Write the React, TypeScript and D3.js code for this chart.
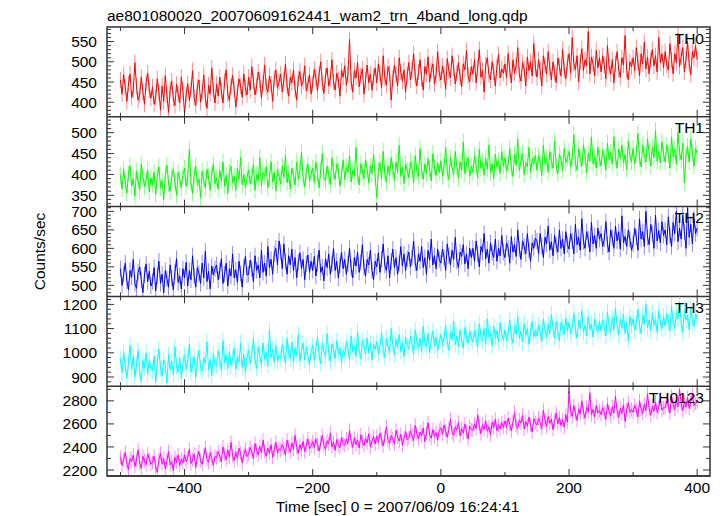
import React from 'react';
import * as d3 from 'd3';

const TITLE = 'ae801080020_20070609162441_wam2_trn_4band_long.qdp';
const X_LABEL = 'Time [sec] 0 = 2007/06/09 16:24:41';
const Y_LABEL = 'Counts/sec';
const T_START = -500;
const BIN = 2.5;

const th0 = [
  455, 420, 468, 438, 402, 445, 470, 412, 430, 498, 440, 405, 418, 462, 425, 395, 448, 472, 430, 410,
  438, 395, 412, 458, 425, 380, 440, 402, 466, 418, 375, 430, 452, 408, 392, 445, 420, 398, 462, 428,
  372, 418, 446, 405, 430, 478, 412, 392, 438, 455, 400, 425, 468, 410, 385, 442, 420, 485, 430, 398,
  445, 415, 462, 428, 398, 452, 480, 420, 405, 440, 466, 432, 388, 425, 458, 440, 412, 470, 435, 418,
  462, 430, 488, 452, 418, 440, 475, 455, 410, 448, 492, 438, 425, 465, 445, 402, 458, 480, 435, 450,
  470, 425, 455, 495, 440, 415, 462, 448, 480, 432, 405, 458, 476, 440, 452, 490, 428, 445, 468, 420,
  445, 482, 460, 428, 470, 500, 448, 422, 465, 485, 440, 458, 505, 450, 430, 472, 455, 415, 478, 462,
  490, 442, 468, 555, 450, 425, 478, 460, 498, 438, 465, 482, 420, 455, 492, 448, 470, 430, 462, 485,
  448, 495, 470, 435, 515, 460, 442, 488, 472, 405, 458, 492, 468, 440, 510, 475, 452, 480, 425, 468,
  498, 455, 480, 520, 462, 440, 475, 505, 458, 430, 488, 470, 512, 450, 478, 495, 445, 468, 525, 472,
  455, 490, 470, 432, 508, 478, 460, 515, 485, 445, 472, 498, 462, 438, 495, 480, 528, 465, 450, 488,
  470, 505, 448, 485, 530, 462, 478, 425, 492, 510, 468, 455, 500, 475, 440, 488, 518, 460, 482, 472,
  495, 460, 520, 480, 448, 505, 472, 490, 535, 468, 452, 498, 482, 440, 512, 478, 500, 465, 545, 485,
  462, 505, 478, 440, 515, 492, 470, 525, 485, 455, 500, 472, 448, 510, 488, 465, 530, 480, 458, 498,
  520, 472, 560, 495, 480, 515, 450, 500, 532, 478, 505, 490, 575, 470, 512, 495, 465, 528, 485, 510,
  475, 515, 492, 458, 540, 488, 470, 505, 448, 495, 525, 480, 462, 510, 492, 565, 478, 455, 500, 488,
  510, 478, 535, 500, 465, 520, 495, 548, 482, 512, 470, 505, 530, 490, 515, 475, 560, 498, 520, 485,
  525, 492, 480, 545, 505, 470, 520, 498, 570, 488, 512, 535, 475, 505, 550, 495, 468, 525, 510, 540,
  505,
];

const th1 = [
  398, 365, 412, 380, 355, 402, 420, 372, 390, 348, 408, 385, 362, 425, 395, 370, 388, 410, 358, 392,
  375, 405, 352, 395, 418, 368, 385, 340, 400, 422, 378, 360, 395, 412, 382, 350, 405, 388, 368, 398,
  415, 372, 392, 460, 380, 355, 398, 420, 375, 390, 345, 408, 385, 368, 412, 395, 362, 400, 425, 378,
  392, 365, 410, 385, 430, 372, 398, 355, 405, 420, 380, 395, 362, 415, 388, 440, 375, 400, 368, 392,
  410, 378, 395, 425, 362, 400, 385, 440, 372, 405, 395, 418, 368, 390, 430, 382, 405, 360, 412, 395,
  378, 420, 392, 445, 380, 402, 365, 415, 398, 375, 430, 388, 410, 452, 392, 370, 405, 425, 385, 400,
  415, 380, 430, 402, 368, 410, 450, 392, 385, 420, 398, 375, 440, 405, 388, 425, 410, 372, 400, 435,
  388, 418, 405, 445, 382, 410, 395, 465, 400, 375, 425, 408, 390, 435, 412, 380, 420, 402, 448, 395,
  345, 410, 428, 390, 455, 402, 382, 420, 398, 440, 412, 385, 430, 405, 470, 395, 418, 378, 425, 410,
  392, 430, 415, 380, 445, 408, 395, 462, 410, 388, 425, 402, 438, 412, 385, 450, 418, 398, 428, 405,
  432, 395, 420, 465, 405, 388, 440, 415, 400, 455, 418, 392, 430, 410, 478, 402, 425, 440, 395, 420,
  405, 445, 420, 392, 460, 415, 430, 398, 438, 412, 470, 405, 425, 390, 448, 418, 432, 402, 455, 420,
  440, 408, 425, 462, 415, 395, 448, 422, 485, 410, 432, 450, 400, 428, 418, 465, 405, 438, 425, 445,
  410, 445, 428, 398, 470, 425, 440, 405, 455, 432, 415, 480, 420, 402, 448, 435, 410, 462, 428, 440,
  455, 418, 440, 495, 425, 410, 462, 438, 420, 470, 445, 405, 450, 432, 490, 425, 442, 415, 465, 438,
  420, 458, 440, 410, 475, 435, 452, 425, 490, 442, 415, 460, 438, 470, 428, 448, 412, 480, 445, 430,
  462, 425, 450, 498, 438, 418, 470, 445, 430, 485, 452, 420, 465, 440, 505, 432, 455, 428, 478, 448,
  430, 470, 448, 415, 490, 442, 460, 425, 500, 452, 435, 475, 380, 445, 468, 430, 485, 450, 420, 462,
  450,
];

const th2 = [
  545, 500, 530, 560, 512, 488, 540, 522, 570, 505, 492, 535, 550, 515, 480, 528, 558, 510, 538, 498,
  510, 548, 485, 525, 565, 505, 530, 480, 540, 518, 495, 555, 520, 488, 535, 572, 508, 525, 490, 545,
  520, 562, 498, 540, 515, 580, 525, 495, 548, 532, 505, 560, 520, 592, 510, 538, 490, 552, 528, 545,
  555, 515, 540, 572, 505, 530, 560, 498, 545, 525, 585, 520, 542, 508, 565, 532, 495, 550, 578, 528,
  530, 568, 545, 510, 580, 540, 555, 520, 595, 535, 560, 525, 605, 548, 570, 530, 585, 600, 555, 620,
  590, 545, 612, 565, 530, 580, 555, 598, 540, 575, 520, 562, 588, 545, 570, 515, 558, 582, 535, 565,
  540, 578, 525, 560, 595, 535, 550, 512, 572, 548, 585, 530, 558, 600, 540, 565, 520, 555, 590, 545,
  570, 530, 558, 600, 545, 520, 575, 552, 590, 535, 562, 610, 548, 525, 570, 555, 595, 540, 515, 565,
  550, 588, 535, 570, 612, 555, 540, 580, 520, 565, 598, 548, 575, 530, 560, 605, 552, 585, 540, 572,
  590, 550, 575, 620, 560, 540, 585, 565, 605, 548, 575, 530, 595, 568, 625, 555, 580, 545, 598, 570,
  560, 598, 575, 540, 612, 580, 555, 595, 570, 630, 565, 548, 590, 578, 610, 558, 585, 545, 600, 575,
  600, 565, 620, 585, 550, 605, 590, 640, 572, 598, 560, 615, 588, 575, 625, 565, 600, 580, 635, 590,
  575, 615, 600, 560, 632, 590, 610, 578, 650, 598, 570, 620, 605, 585, 640, 595, 565, 615, 600, 628,
  620, 585, 640, 605, 575, 630, 612, 660, 595, 618, 580, 635, 608, 590, 650, 600, 625, 585, 645, 610,
  598, 640, 620, 585, 665, 610, 630, 595, 680, 618, 600, 645, 625, 590, 670, 612, 635, 600, 655, 625,
  640, 605, 625, 672, 610, 590, 650, 628, 600, 660, 620, 645, 598, 688, 615, 632, 605, 650, 625, 595,
  612, 655, 630, 595, 680, 625, 645, 605, 700, 630, 610, 665, 640, 600, 690, 620, 648, 615, 672, 635,
  650, 610, 685, 635, 605, 670, 640, 700, 618, 655, 625, 690, 645, 600, 710, 630, 665, 612, 680, 640,
  655,
];

const th3 = [
  975, 918, 1005, 945, 895, 960, 1030, 930, 985, 900, 952, 1010, 925, 880, 968, 940, 1000, 912, 970, 935,
  925, 985, 880, 960, 1015, 935, 905, 970, 948, 875, 992, 930, 965, 910, 1025, 945, 920, 978, 895, 958,
  990, 932, 965, 1035, 920, 950, 985, 898, 968, 1010, 940, 925, 980, 955, 1045, 930, 972, 905, 995, 950,
  945, 1010, 970, 925, 1050, 960, 990, 935, 1005, 948, 975, 1020, 930, 985, 960, 1040, 940, 995, 918, 980,
  1010, 955, 995, 1060, 970, 935, 1025, 985, 950, 1040, 975, 1000, 945, 1095, 980, 1015, 960, 1030, 965, 990,
  975, 1035, 995, 955, 1060, 1000, 975, 1045, 960, 1020, 990, 1075, 965, 1010, 1040, 970, 1025, 985, 950, 1005,
  1030, 970, 1015, 1065, 990, 955, 1040, 1005, 985, 1080, 1000, 965, 1035, 1015, 975, 1050, 995, 1020, 960, 1010,
  990, 1045, 1015, 970, 1070, 1005, 1030, 985, 1090, 1010, 975, 1050, 1025, 995, 1060, 1000, 1040, 970, 1035, 1015,
  1045, 995, 1030, 1085, 1010, 980, 1060, 1025, 1000, 1100, 1035, 990, 1055, 1020, 1075, 1005, 1040, 985, 1065, 1030,
  1015, 1070, 1035, 995, 1095, 1045, 1020, 1060, 1005, 1110, 1040, 1025, 1080, 1000, 1050, 1090, 1030, 1065, 1010, 1045,
  1075, 1030, 1060, 1115, 1045, 1010, 1085, 1055, 1130, 1035, 1070, 1025, 1095, 1050, 1020, 1105, 1065, 1040, 1090, 1060,
  1045, 1095, 1060, 1025, 1120, 1070, 1050, 1100, 1035, 1140, 1065, 1080, 1030, 1110, 1060, 1090, 1045, 1125, 1075, 1055,
  1095, 1050, 1080, 1135, 1065, 1040, 1110, 1075, 1150, 1060, 1090, 1045, 1120, 1070, 1100, 1035, 1085, 1130, 1065, 1095,
  1070, 1115, 1085, 1045, 1140, 1095, 1065, 1120, 1080, 1160, 1100, 1060, 1130, 1090, 1050, 1125, 1105, 1075, 1145, 1090,
  1125, 1080, 1105, 1165, 1095, 1060, 1135, 1100, 1175, 1085, 1115, 1070, 1150, 1095, 1120, 1065, 1140, 1105, 1085, 1130,
  1090, 1135, 1105, 1070, 1170, 1110, 1085, 1145, 1095, 1185, 1115, 1075, 1140, 1100, 1160, 1080, 1125, 1050, 1150, 1110,
  1140, 1095, 1125, 1180, 1110, 1080, 1155, 1120, 1200, 1105, 1135, 1090, 1165, 1115, 1140, 1085, 1175, 1125, 1100, 1150,
  1110, 1160, 1130, 1090, 1195, 1125, 1100, 1165, 1140, 1210, 1120, 1085, 1175, 1135, 1155, 1095, 1185, 1130, 1110, 1160,
  1140,
];

const th0123 = [
  2310, 2240, 2290, 2355, 2255, 2205, 2300, 2270, 2330, 2230, 2285, 2375, 2260, 2215, 2320, 2280, 2245, 2340, 2295, 2250,
  2265, 2320, 2230, 2180, 2290, 2345, 2255, 2300, 2210, 2280, 2360, 2245, 2275, 2195, 2310, 2265, 2330, 2240, 2295, 2260,
  2330, 2270, 2305, 2380, 2255, 2290, 2340, 2220, 2315, 2360, 2280, 2250, 2325, 2395, 2290, 2265, 2350, 2300, 2240, 2320,
  2305, 2360, 2320, 2270, 2400, 2335, 2290, 2375, 2310, 2440, 2325, 2280, 2355, 2300, 2390, 2345, 2260, 2335, 2380, 2315,
  2340, 2395, 2355, 2300, 2430, 2370, 2330, 2405, 2350, 2460, 2365, 2320, 2390, 2345, 2420, 2310, 2375, 2440, 2350, 2385,
  2370, 2420, 2385, 2330, 2460, 2400, 2355, 2435, 2380, 2500, 2395, 2345, 2420, 2375, 2450, 2360, 2410, 2470, 2385, 2405,
  2445, 2395, 2470, 2420, 2365, 2435, 2500, 2410, 2380, 2455, 2425, 2520, 2400, 2440, 2370, 2465, 2415, 2390, 2485, 2430,
  2415, 2470, 2430, 2545, 2455, 2395, 2480, 2420, 2460, 2390, 2505, 2445, 2410, 2475, 2435, 2515, 2400, 2450, 2490, 2425,
  2495, 2440, 2520, 2465, 2410, 2480, 2575, 2455, 2430, 2500, 2470, 2425, 2545, 2485, 2450, 2510, 2415, 2475, 2535, 2460,
  2480, 2540, 2500, 2455, 2590, 2515, 2470, 2530, 2495, 2565, 2445, 2520, 2610, 2505, 2475, 2550, 2490, 2525, 2460, 2545,
  2565, 2510, 2590, 2535, 2485, 2555, 2640, 2525, 2500, 2575, 2545, 2615, 2495, 2560, 2520, 2600, 2530, 2470, 2580, 2550,
  2545, 2600, 2560, 2680, 2580, 2515, 2595, 2550, 2625, 2535, 2575, 2505, 2615, 2565, 2640, 2540, 2590, 2555, 2610, 2570,
  2625, 2570, 2650, 2595, 2540, 2615, 2700, 2585, 2560, 2635, 2605, 2675, 2555, 2620, 2580, 2660, 2590, 2530, 2645, 2610,
  2590, 2650, 2610, 2560, 2720, 2630, 2575, 2665, 2605, 2640, 2550, 2625, 2695, 2600, 2655, 2585, 2635, 2570, 2680, 2615,
  2880, 2710, 2665, 2760, 2690, 2630, 2730, 2685, 2800, 2700, 2650, 2745, 2705, 2870, 2680, 2725, 2660, 2760, 2695, 2715,
  2680, 2740, 2700, 2640, 2775, 2710, 2670, 2750, 2695, 2840, 2715, 2655, 2735, 2690, 2765, 2620, 2720, 2785, 2700, 2725,
  2700, 2760, 2720, 2660, 2800, 2730, 2690, 2770, 2715, 2860, 2735, 2675, 2755, 2710, 2790, 2700, 2745, 2815, 2720, 2740,
  2740, 2800, 2755, 2695, 2840, 2770, 2725, 2810, 2750, 2900, 2775, 2715, 2795, 2745, 2830, 2735, 2785, 2855, 2760, 2780,
  2790,
];

const bandNames = ['TH0', 'TH1', 'TH2', 'TH3', 'TH0123'];
const bandSeries = [th0, th1, th2, th3, th0123];
const bandColors = ['#ff0000', '#00ff00', '#0000ff', '#00ffff', '#ff00ff'];
const bandErrors = [20, 20, 22, 34, 60];
const yDomains: [number, number][] = [[364, 586], [323, 538], [470, 713], [862, 1233], [2148, 2927]];
const yMajorStep = [50, 50, 50, 100, 200];
const yMinorStep = [10, 10, 10, 20, 100];
const xMajorTicks = [-400, -200, 0, 200, 400];
const xMinorTicks = [-500, -300, -100, 100, 300];
const X_DOMAIN: [number, number] = [-521, 420];

const W = 723;
const H = 516;
const L = 107;
const R = 710;
const TOP = 27;
const BOTTOM = 476;
const FONT = "'Liberation Sans', Arial, Helvetica, sans-serif";
const FS = 15.5;
const AX = '#333';

export default function App() {
  const x = d3.scaleLinear().domain(X_DOMAIN).range([L, R]);
  const ph = (BOTTOM - TOP) / bandNames.length;

  const panels = bandNames.map((name, i) => {
    const y0 = TOP + i * ph;
    const y1 = y0 + ph;
    const y = d3.scaleLinear().domain(yDomains[i]).range([y1, y0]);
    const vals = bandSeries[i];
    const t = (k: number) => T_START + k * BIN;
    const line = d3.line<number>().x((_, k) => x(t(k))).y((v) => y(v));
    const err = bandErrors[i];
    const errPath = vals
      .map((v, k) => `M${x(t(k)).toFixed(2)},${y(v - err).toFixed(2)}V${y(v + err).toFixed(2)}`)
      .join('');
    const [d0, d1] = yDomains[i];
    const minor = yMinorStep[i];
    const major = yMajorStep[i];
    const yt = d3.range(Math.ceil(d0 / minor) * minor, d1 + 1e-9, minor);
    const clipId = `clip${i}`;
    return (
      <g key={name}>
        <defs>
          <clipPath id={clipId}>
            <rect x={L} y={y0} width={R - L} height={ph} />
          </clipPath>
        </defs>
        <g clipPath={`url(#${clipId})`}>
          <path d={errPath} stroke={bandColors[i]} strokeOpacity={0.45} strokeWidth={1} fill="none" />
          <path d={line(vals) || ''} stroke={bandColors[i]} strokeWidth={1} fill="none" />
        </g>
        {yt.map((v) => {
          const isMajor = Math.abs(v / major - Math.round(v / major)) < 1e-6;
          const len = isMajor ? 7 : 4;
          const yy = y(v);
          return (
            <g key={v}>
              <line x1={L} x2={L + len} y1={yy} y2={yy} stroke={AX} strokeWidth={1} />
              <line x1={R} x2={R - len} y1={yy} y2={yy} stroke={AX} strokeWidth={1} />
              {isMajor && (
                <text x={L - 10} y={yy} dy="0.36em" textAnchor="end" fontSize={FS} fontFamily={FONT} fill="#000">
                  {v}
                </text>
              )}
            </g>
          );
        })}
        {[...xMajorTicks, ...xMinorTicks].map((v) => {
          const len = xMajorTicks.includes(v) ? 7 : 4;
          const xx = x(v);
          return (
            <g key={`x${v}`}>
              <line x1={xx} x2={xx} y1={y0} y2={y0 + len} stroke={AX} strokeWidth={1} />
              <line x1={xx} x2={xx} y1={y1} y2={y1 - len} stroke={AX} strokeWidth={1} />
            </g>
          );
        })}
        <text x={704} y={y0 + 16.5} textAnchor="end" fontSize={FS} fontFamily={FONT} fill="#000">
          {name}
        </text>
        <line x1={L} x2={R} y1={y1} y2={y1} stroke={AX} strokeWidth={1.5} />
      </g>
    );
  });

  return (
    <svg width={W} height={H} style={{ position: 'absolute', left: 0, top: 0, background: '#fff' }}>
      <rect x={0} y={0} width={W} height={H} fill="#fff" />
      <text x={L} y={21} fontSize={FS} fontFamily={FONT} fill="#000">
        {TITLE}
      </text>
      {panels}
      <rect x={L} y={TOP} width={R - L} height={BOTTOM - TOP} fill="none" stroke={AX} strokeWidth={1.5} />
      {xMajorTicks.map((v) => (
        <text key={v} x={x(v)} y={493} textAnchor="middle" fontSize={FS} fontFamily={FONT} fill="#000">
          {v < 0 ? `\u2212${Math.abs(v)}` : v}
        </text>
      ))}
      <text x={397.5} y={512} textAnchor="middle" fontSize={FS} fontFamily={FONT} fill="#000">
        {X_LABEL}
      </text>
      <text
        transform={`translate(45,${(TOP + BOTTOM) / 2}) rotate(-90)`}
        textAnchor="middle"
        fontSize={FS}
        fontFamily={FONT}
        fill="#000"
      >
        {Y_LABEL}
      </text>
    </svg>
  );
}
